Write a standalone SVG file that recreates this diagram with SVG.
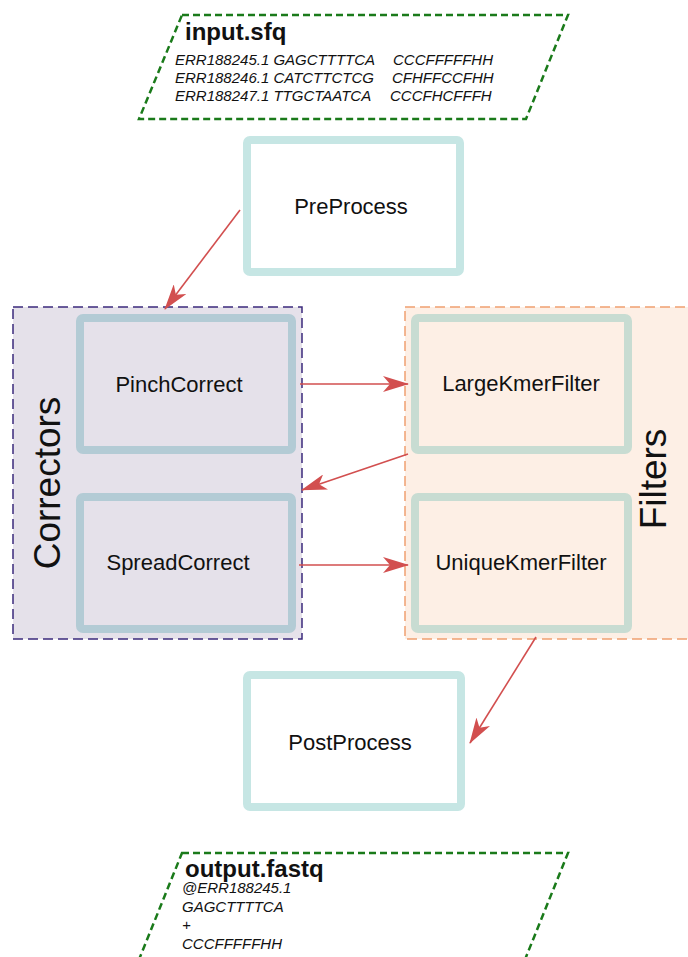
<svg xmlns="http://www.w3.org/2000/svg" width="688" height="957" viewBox="0 0 688 957">
<style>
.t{font-family:"Liberation Sans",Arial,sans-serif;fill:#111}
.lbl{font-size:22px;text-anchor:middle}
.ttl{font-size:24px;font-weight:bold}
.seq{font-size:15px;font-style:italic}
.cl{font-size:37px;text-anchor:middle}
.io{fill:#fff;stroke:#1a7a1a;stroke-width:2.5;stroke-dasharray:7,4}
.n{stroke-width:8}
.e{stroke:#d24f4f;stroke-width:1.6;fill:none;marker-end:url(#ah)}
</style>
<defs>
<marker id="ah" viewBox="0 0 26 16" refX="25" refY="8" markerWidth="26" markerHeight="16" markerUnits="userSpaceOnUse" orient="auto">
<path d="M0,0 L26,8 L0,16 L7,8 z" fill="#d24f4f"/>
</marker>
</defs>
<rect width="688" height="957" fill="#fff"/>
<g id="cluster_correctors">
<rect x="13" y="307" width="289" height="332" fill="#e5e1ea" stroke="#3b2a7c" stroke-width="1.5" stroke-dasharray="10,5"/>
<text class="t cl" transform="translate(60,483) rotate(-90)">Correctors</text>
</g>
<g id="cluster_filters">
<rect x="405" y="307" width="290" height="332" fill="#fdefe5" stroke="#f0a070" stroke-width="1.5" stroke-dasharray="10,5"/>
<text class="t cl" transform="translate(666,479) rotate(-90)">Filters</text>
</g>
<g id="input">
<polygon class="io" points="182,15 568,15 526,119 139,119"/>
<text class="t ttl" x="185" y="40">input.sfq</text>
<text class="t seq" x="175" y="65">ERR188245.1 GAGCTTTTCA<tspan x="393">CCCFFFFFHH</tspan></text>
<text class="t seq" x="175" y="83">ERR188246.1 CATCTTCTCG<tspan x="392">CFHFFCCFHH</tspan></text>
<text class="t seq" x="175" y="101">ERR188247.1 TTGCTAATCA<tspan x="390">CCCFHCFFFH</tspan></text>
</g>
<g id="preprocess">
<rect class="n" x="247" y="140" width="213" height="132" rx="3" fill="#fff" stroke="#c6e6e4"/>
<text class="t lbl" x="351" y="214">PreProcess</text>
</g>
<g id="pinchcorrect">
<rect class="n" x="80" y="318" width="212" height="132" rx="3" fill="#e5e1ea" stroke="#b3cbd5"/>
<text class="t lbl" x="179" y="392">PinchCorrect</text>
</g>
<g id="spreadcorrect">
<rect class="n" x="80" y="497" width="212" height="132" rx="3" fill="#e5e1ea" stroke="#b3cbd5"/>
<text class="t lbl" x="178" y="570">SpreadCorrect</text>
</g>
<g id="largekmerfilter">
<rect class="n" x="415" y="318" width="213" height="132" rx="3" fill="#fdefe5" stroke="#c8dcd2"/>
<text class="t lbl" x="521" y="391">LargeKmerFilter</text>
</g>
<g id="uniquekmerfilter">
<rect class="n" x="415" y="497" width="213" height="132" rx="3" fill="#fdefe5" stroke="#c8dcd2"/>
<text class="t lbl" x="521" y="570">UniqueKmerFilter</text>
</g>
<g id="postprocess">
<rect class="n" x="247" y="675" width="214" height="132" rx="3" fill="#fff" stroke="#c6e6e4"/>
<text class="t lbl" x="350" y="750">PostProcess</text>
</g>
<g id="output">
<polygon class="io" points="182,853 568,853 524,962 138,962"/>
<text class="t ttl" x="185" y="877">output.fastq</text>
<text class="t seq" x="182" y="893">@ERR188245.1</text>
<text class="t seq" x="182" y="912">GAGCTTTTCA</text>
<text class="t seq" x="182" y="930">+</text>
<text class="t seq" x="182" y="949">CCCFFFFFHH</text>
</g>
<g id="connectors">
<path class="e" d="M240,210 L165,309"/>
<path class="e" d="M300,384 L408,384"/>
<path class="e" d="M408,454 L302,490"/>
<path class="e" d="M299,565 L408,565"/>
<path class="e" d="M536,637 L470,743"/>
</g>
</svg>
